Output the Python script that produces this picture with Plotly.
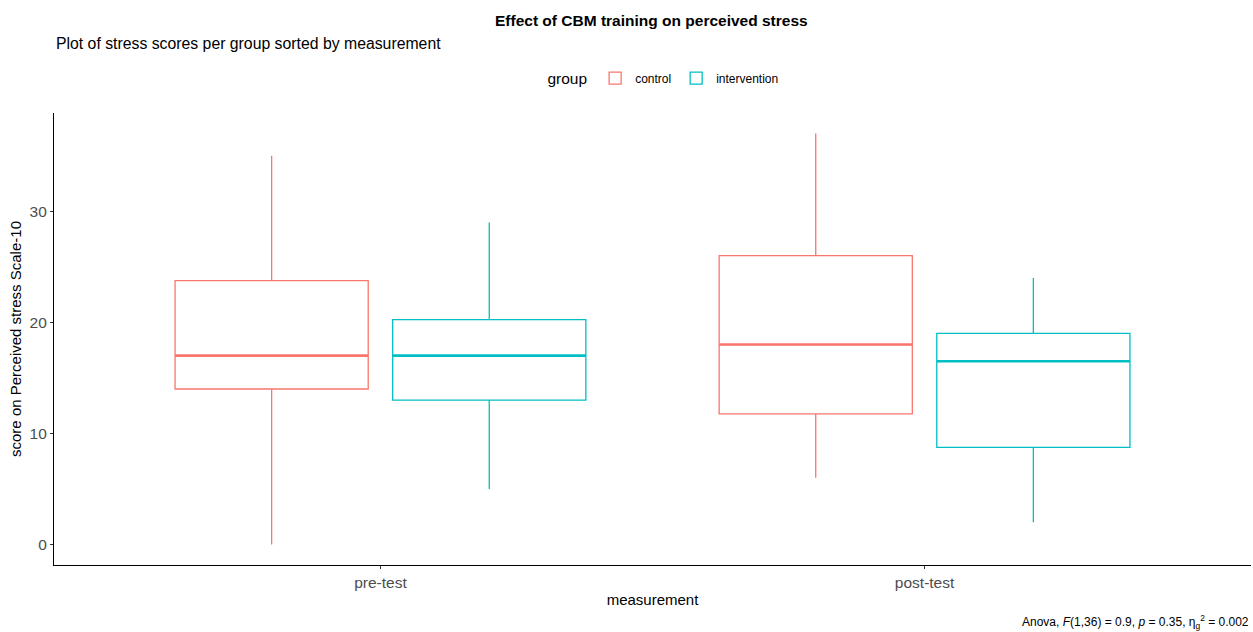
import plotly.graph_objects as go

# Measurement occasions (x categories) and groups
measurements = ["pre-test", "post-test"]
groups = ["control", "intervention"]
group_colors = {"control": "#F8766D", "intervention": "#00BFC4"}

# Box statistics per group, one value per measurement
lower_whisker = {"control": [0, 6], "intervention": [5, 2]}
q1_values = {"control": [14, 11.75], "intervention": [13, 8.75]}
median_values = {"control": [17, 18], "intervention": [17, 16.5]}
q3_values = {"control": [23.75, 26], "intervention": [20.25, 19]}
upper_whisker = {"control": [35, 37], "intervention": [29, 24]}

y_ticks = [0, 10, 20, 30]

FONT = "Liberation Sans, Arial, sans-serif"
BOX_WIDTH = 0.355
DODGE = {"control": -0.2, "intervention": 0.2}

fig = go.Figure()

for g in groups:
    xs = [i + DODGE[g] for i in range(len(measurements))]
    fig.add_trace(go.Box(
        name=g,
        x=xs,
        q1=q1_values[g],
        median=median_values[g],
        q3=q3_values[g],
        lowerfence=lower_whisker[g],
        upperfence=upper_whisker[g],
        width=BOX_WIDTH,
        whiskerwidth=0,
        line=dict(color=group_colors[g], width=1.3),
        fillcolor="rgba(255,255,255,0)",
        boxpoints=False,
        hoverinfo="skip",
    ))
    # thicker median segments drawn over each box
    for x, m in zip(xs, median_values[g]):
        fig.add_trace(go.Scatter(
            x=[x - BOX_WIDTH / 2, x + BOX_WIDTH / 2],
            y=[m, m],
            mode="lines",
            line=dict(color=group_colors[g], width=2.6),
            showlegend=False,
            hoverinfo="skip",
        ))

fig.update_layout(
    width=1253,
    height=632,
    margin=dict(l=54, r=2, t=113, b=67),
    paper_bgcolor="white",
    plot_bgcolor="white",
    boxmode="overlay",
    font=dict(family=FONT, color="black"),
    showlegend=True,
    legend=dict(
        orientation="h",
        x=0.51, xanchor="center",
        y=1.075, yanchor="middle",
        title=dict(text="group", font=dict(size=15.5, family=FONT, color="black")),
        font=dict(size=12, family=FONT, color="black"),
        itemwidth=30,
    ),
    xaxis=dict(
        range=[-0.6, 1.6],
        tickmode="array",
        tickvals=list(range(len(measurements))),
        ticktext=measurements,
        showline=True, linecolor="black", linewidth=1.2,
        ticks="outside", ticklen=3, tickcolor="#333333", tickwidth=1,
        tickfont=dict(size=15.5, color="#4D4D4D", family=FONT),
        showgrid=False, zeroline=False,
        title=dict(text="measurement", font=dict(size=15, family=FONT, color="black"), standoff=4),
    ),
    yaxis=dict(
        range=[-1.85, 38.85],
        tickmode="array",
        tickvals=y_ticks,
        showline=True, linecolor="black", linewidth=1.2,
        ticks="outside", ticklen=3, tickcolor="#333333", tickwidth=1,
        tickfont=dict(size=15.5, color="#4D4D4D", family=FONT),
        showgrid=False, zeroline=False,
        title=dict(text="score on Perceived stress Scale-10", font=dict(size=15, family=FONT, color="black"), standoff=4),
    ),
    annotations=[
        dict(text="<b>Effect of CBM training on perceived stress</b>",
             xref="paper", yref="paper", x=(651 - 54) / 1197, y=(632 - 20 - 67) / 452,
             xanchor="center", yanchor="middle", showarrow=False,
             font=dict(size=15.5, family=FONT, color="black")),
        dict(text="Plot of stress scores per group sorted by measurement",
             xref="paper", yref="paper", x=0.0, y=(632 - 43 - 67) / 452,
             xanchor="left", yanchor="middle", showarrow=False,
             font=dict(size=15.8, family=FONT, color="black")),
        dict(text="Anova, <i>F</i>(1,36) = 0.9, <i>p</i> = 0.35, η<sub>g</sub><sup>2</sup> = 0.002",
             xref="paper", yref="paper", x=1.0, y=(632 - 622 - 67) / 452,
             xanchor="right", yanchor="middle", showarrow=False,
             font=dict(size=12, family=FONT, color="black")),
    ],
)

fig.write_html("out.html")
